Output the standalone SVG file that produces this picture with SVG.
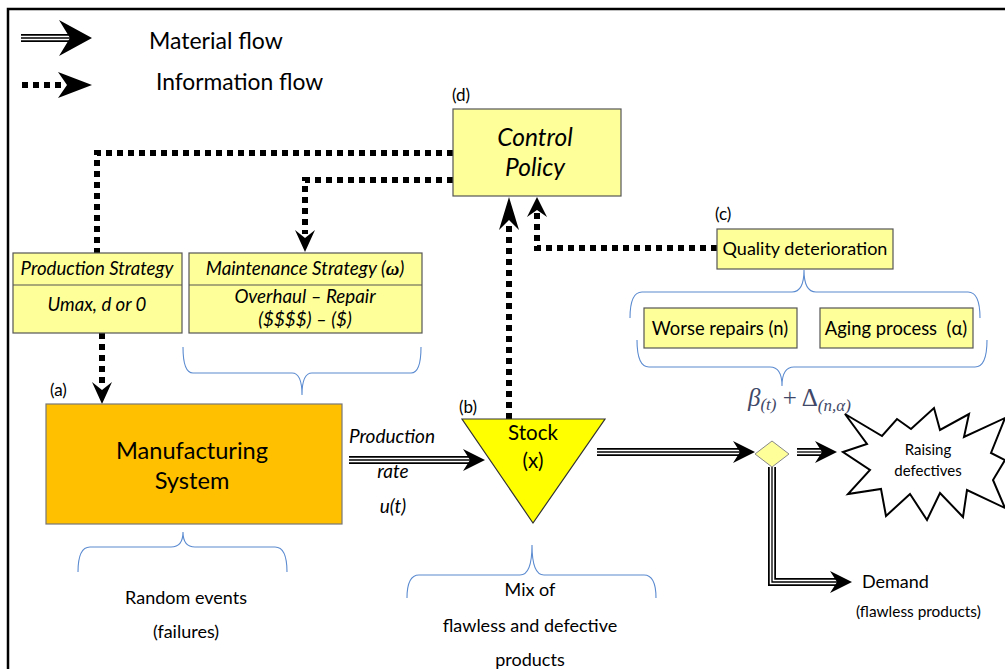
<svg xmlns="http://www.w3.org/2000/svg" width="1005" height="669" viewBox="0 0 1005 669">
<defs>
<style>
text{font-family:Lato,"Liberation Sans",sans-serif;fill:#000}
.it{font-style:italic}
.box{fill:#ffff99;stroke:#555;stroke-width:1.2}
.m1{fill:none;stroke:#000;stroke-width:8}
.m2{fill:none;stroke:#fff;stroke-width:4.5}
.m3{fill:none;stroke:#000;stroke-width:1.3}
.dot{fill:none;stroke:#000;stroke-width:6;stroke-dasharray:6 5}
.br{fill:none;stroke:#5b8bd0;stroke-width:1.1}
.ah{fill:#000}
</style>
</defs>
<rect width="1005" height="669" fill="#fff"/>
<path d="M8,669 V9 H1005" fill="none" stroke="#000" stroke-width="2.5"/>

<g id="legend">
<path class="m1" d="M21,38 H70"/><path class="m2" d="M21,38 H70"/><path class="m3" d="M21,38 H70"/>
<polygon class="ah" points="92,38 59,20 70,38 59,56"/>
<path class="dot" d="M22,85 H66"/>
<polygon class="ah" points="92,85 58,72 67,85 58,98"/>
<text x="149" y="49" font-size="23">Material flow</text>
<text x="156" y="90" font-size="22.8">Information flow</text>
</g>

<g id="connectors">
<path class="dot" d="M453,153 H97 V253"/>
<path class="dot" d="M102,333 V386"/>
<polygon class="ah" points="102,404 92,382 102,390 112,382"/>
<path class="dot" d="M453,180 H305 V234"/>
<polygon class="ah" points="305,252 295,230 305,238 315,230"/>
<path class="dot" d="M509,419 V222"/>
<polygon class="ah" points="509,197 499,230 509,220 519,230"/>
<path class="dot" d="M717,248 H537 V212"/>
<polygon class="ah" points="537,197 527,217 537,210 547,217"/>
<g>
<path class="m1" d="M349,460 H470"/><path class="m2" d="M349,460 H470"/><path class="m3" d="M349,460 H470"/>
<polygon class="ah" points="485,460 463,449 470,460 463,471"/>
</g>
<g>
<path class="m1" d="M597,452 H741"/><path class="m2" d="M597,452 H741"/><path class="m3" d="M597,452 H741"/>
<polygon class="ah" points="755,452 733,441 740,452 733,463"/>
</g>
<g>
<path class="m1" d="M797,452 H822"/><path class="m2" d="M797,452 H822"/><path class="m3" d="M797,452 H822"/>
<polygon class="ah" points="837,452 815,441 822,452 815,463"/>
</g>
<g>
<path class="m1" d="M772,467 V582 H838"/><path class="m2" d="M772,467 V582 H838"/><path class="m3" d="M772,467 V582 H838"/>
<polygon class="ah" points="852,582 830,571 837,582 830,593"/>
</g>
</g>

<g id="braces">
<path class="br" d="M183,347 Q183,373 193,373 H292 Q302,373 302,395 Q302,373 312,373 H411 Q421,373 421,347"/>
<path class="br" d="M630,318 Q630,292 642,292 H792 Q804,292 804,270 Q804,292 816,292 H968 Q980,292 980,318"/>
<path class="br" d="M637,340 Q637,367 649,367 H770 Q782,367 782,386 Q782,367 794,367 H975 Q987,367 987,340"/>
<path class="br" d="M78,572 Q78,547 90,547 H171 Q183,547 183,532 Q183,547 195,547 H275 Q287,547 287,572"/>
<path class="br" d="M407,598 Q407,575 419,575 H520 Q532,575 532,545 Q532,575 544,575 H644 Q656,575 656,598"/>
</g>

<g id="control-policy">
<rect class="box" x="453" y="109" width="168" height="87"/>
<text x="535" y="146" font-size="24.5" class="it" text-anchor="middle">Control</text>
<text x="535" y="176" font-size="24.5" class="it" text-anchor="middle">Policy</text>
<text x="452" y="101" font-size="17">(d)</text>
</g>

<g id="production-strategy">
<rect class="box" x="13" y="253" width="169" height="80"/>
<line x1="13" y1="285" x2="182" y2="285" stroke="#555" stroke-width="1.2"/>
<text x="97" y="275" font-size="18.6" class="it" text-anchor="middle">Production Strategy</text>
<text x="97" y="311" font-size="18.6" class="it" text-anchor="middle">Umax, d or 0</text>
</g>

<g id="maintenance-strategy">
<rect class="box" x="189" y="253" width="233" height="80"/>
<line x1="189" y1="285" x2="422" y2="285" stroke="#555" stroke-width="1.2"/>
<text x="305" y="275" font-size="18.8" class="it" text-anchor="middle">Maintenance Strategy (<tspan font-family="Liberation Serif" font-weight="bold">ω</tspan>)</text>
<text x="305" y="303" font-size="18.8" class="it" text-anchor="middle">Overhaul – Repair</text>
<text x="305" y="326" font-size="18.8" class="it" text-anchor="middle">($$$$) – ($)</text>
</g>

<g id="manufacturing-system">
<rect x="46" y="404" width="296" height="120" fill="#ffc000" stroke="#777" stroke-width="1.2"/>
<text x="192" y="459" font-size="23.6" text-anchor="middle">Manufacturing</text>
<text x="192" y="489" font-size="23.6" text-anchor="middle">System</text>
<text x="50" y="396" font-size="17">(a)</text>
</g>

<g id="production-rate">
<text x="392" y="443" font-size="19" class="it" text-anchor="middle">Production</text>
<text x="393" y="478" font-size="19" class="it" text-anchor="middle">rate</text>
<text x="393" y="513" font-size="19" class="it" text-anchor="middle">u(t)</text>
</g>

<g id="stock">
<polygon points="462,419 605,419 533,523" fill="#ffff00" stroke="#333" stroke-width="1.2"/>
<text x="533" y="440" font-size="20.5" text-anchor="middle">Stock</text>
<text x="533" y="468" font-size="20.5" text-anchor="middle">(x)</text>
<text x="459" y="413" font-size="17">(b)</text>
</g>

<g id="quality-deterioration">
<rect class="box" x="717" y="229" width="176" height="40"/>
<text x="805" y="255" font-size="18" text-anchor="middle">Quality deterioration</text>
<text x="715" y="220" font-size="17">(c)</text>
</g>

<g id="worse-repairs">
<rect class="box" x="644" y="308" width="153" height="40"/>
<text x="720" y="335" font-size="18.4" text-anchor="middle">Worse repairs (n)</text>
</g>

<g id="aging-process">
<rect class="box" x="820" y="308" width="153" height="40"/>
<text x="896" y="335" font-size="18.4" text-anchor="middle" xml:space="preserve">Aging process  (α)</text>
</g>

<g id="decision">
<polygon points="772,441 789,454 772,467 755,454" fill="#ffff99" stroke="#888" stroke-width="1"/>
<text x="748" y="406" font-size="25" style="fill:#3f4868;font-family:'Liberation Serif',serif" xml:space="preserve"><tspan font-style="italic">β</tspan><tspan font-size="17" dy="4" font-style="italic">(t)</tspan><tspan dy="-4"> + Δ</tspan><tspan font-size="17" dy="5" font-style="italic">(n,α)</tspan></text>
</g>

<g id="raising-defectives">
<polygon points="843,452 867,444 845,414 882,436 897,419 911,429 934,408 940,430 969,414 964,437 1005,418 991,453 1005,460 993,480 1005,508 967,490 963,517 940,493 927,520 910,494 886,516 881,489 848,494 870,470" fill="#fff" stroke="#000" stroke-width="2"/>
<text x="928" y="455" font-size="15" text-anchor="middle">Raising</text>
<text x="928" y="476" font-size="15" text-anchor="middle">defectives</text>
</g>

<g id="texts">
<text x="186" y="604" font-size="18" text-anchor="middle">Random events</text>
<text x="186" y="638" font-size="18" text-anchor="middle">(failures)</text>
<text x="530" y="596" font-size="18" text-anchor="middle">Mix of</text>
<text x="530" y="632" font-size="18" text-anchor="middle">flawless and defective</text>
<text x="530" y="666" font-size="18" text-anchor="middle">products</text>
<text x="862" y="588" font-size="18">Demand</text>
<text x="856" y="617" font-size="15.4">(flawless products)</text>
</g>
</svg>
